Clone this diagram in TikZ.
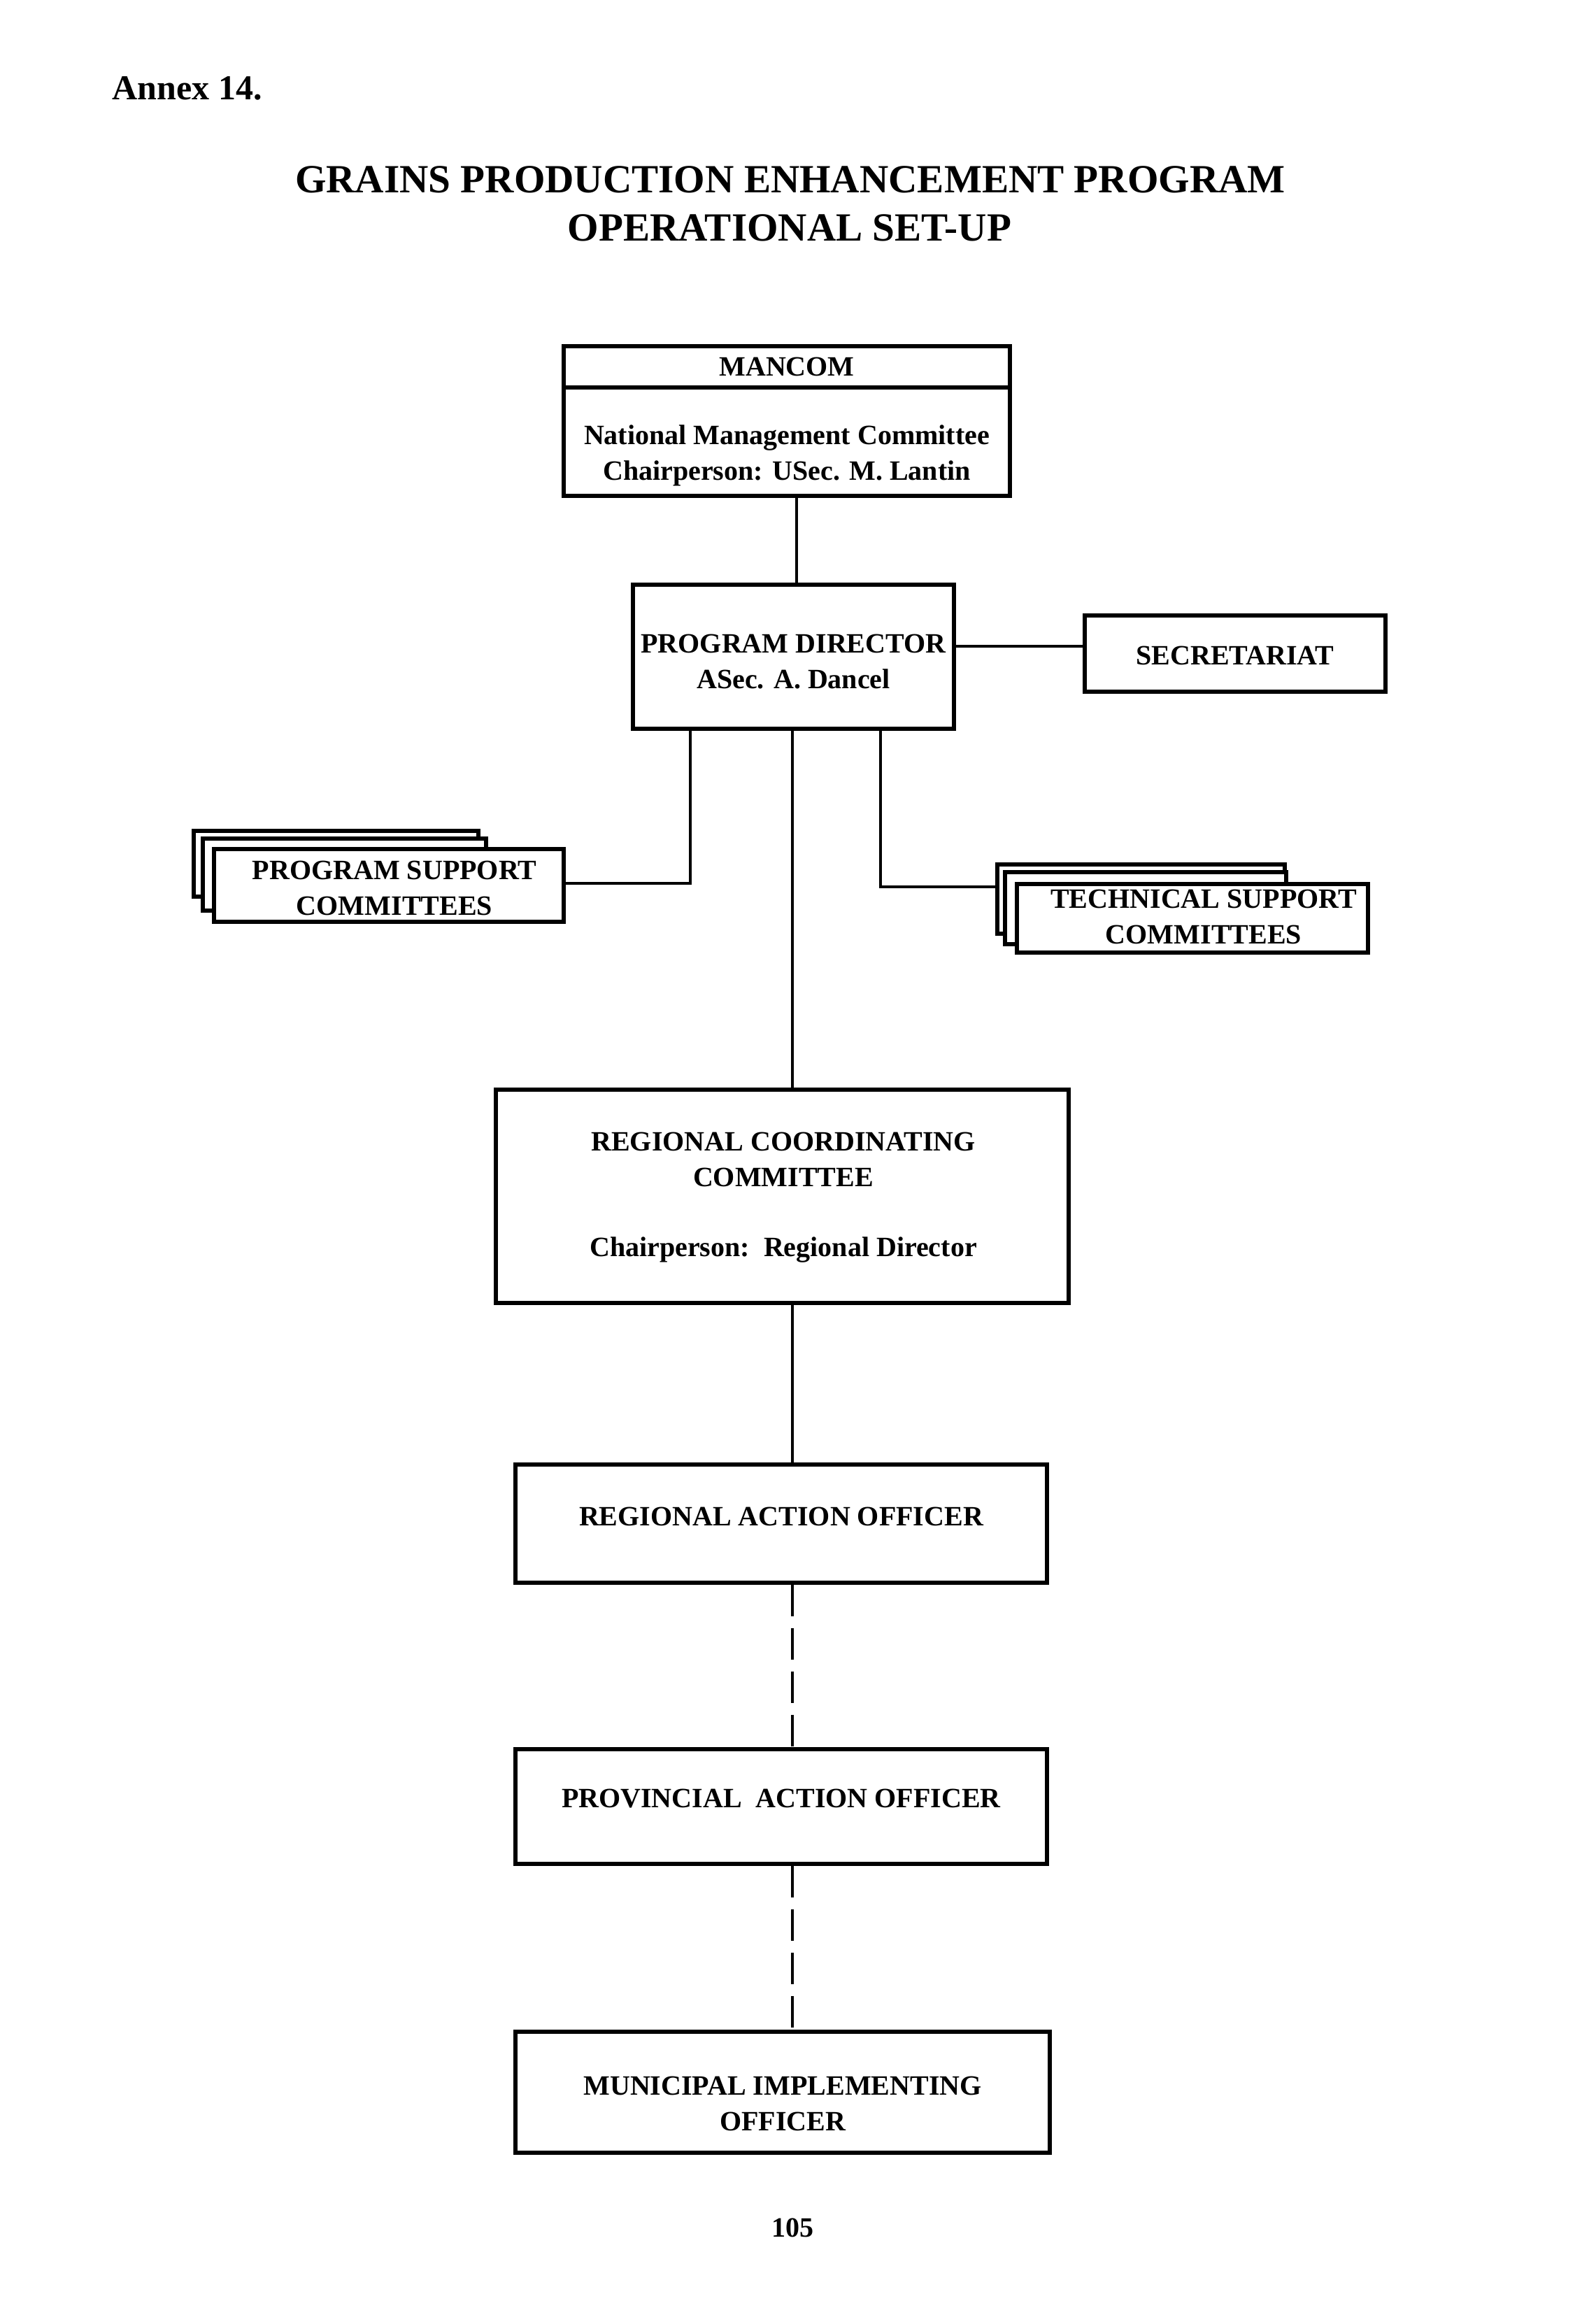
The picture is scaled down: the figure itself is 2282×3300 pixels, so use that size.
\documentclass[tikz,border=0pt]{standalone}
\usepackage{fontspec}
\setmainfont{Liberation Serif}
\begin{document}
\begin{tikzpicture}[x=0.25pt,y=-0.25pt,
  boxs/.style={draw, line width=1.4pt, fill=white, inner sep=0pt},
  lbl/.style={inner sep=0pt, align=center, font=\bfseries\fontsize{10}{12.75}\selectfont},
  conn/.style={line width=1.2pt},
  dashconn/.style={line width=1.2pt, dash pattern=on 11.25pt off 4.25pt}]
\useasboundingbox (0,0) rectangle (2282,3300);
\fill[white] (0,0) rectangle (2282,3300);

% headings
\node[anchor=west, inner sep=0pt, font=\bfseries\fontsize{12.5}{15}\selectfont] (annex) at (160,126) {Annex 14.};
\node[inner sep=0pt, font=\bfseries\fontsize{14.3}{17}\selectfont] (title1) at (1130,257) {GRAINS PRODUCTION ENHANCEMENT PROGRAM};
\node[inner sep=0pt, font=\bfseries\fontsize{14.3}{17}\selectfont] (title2) at (1129,326) {OPERATIONAL SET-UP};

% MANCOM
\node[boxs, minimum width=159.5pt, minimum height=53.5pt] (mancom) at (1125,602) {};
\coordinate (divy) at (0,554);
\draw[line width=1.4pt] (mancom.west |- divy) -- (mancom.east |- divy);
\node[lbl] (mancomT) at (1125,524) {MANCOM};
\node[lbl] (nmc) at (1125,651) {National Management Committee\\Chairperson: USec. M. Lantin};

% Program director and secretariat
\node[boxs, minimum width=114.75pt, minimum height=51.5pt] (pd) at (1134.5,939) {};
\node[lbl] (pdT) at (1134.5,946) {PROGRAM DIRECTOR\\ASec. A. Dancel};
\node[boxs, minimum width=107.5pt, minimum height=27.25pt] (sec) at (1766,934.5) {};
\node[lbl] (secT) at (1766,937) {SECRETARIAT};

% Program support committees (stack)
\node[boxs, minimum width=101.75pt, minimum height=23.5pt] (psc3) at (480.5,1235) {};
\node[boxs, minimum width=101.25pt, minimum height=25.75pt] (psc2) at (492.5,1250.5) {};
\node[boxs, minimum width=125pt, minimum height=26pt] (psc) at (556,1266) {};
\node[lbl] (pscT) at (564,1270) {PROGRAM SUPPORT\\COMMITTEES};

% Technical support committees (stack)
\node[boxs, minimum width=102.75pt, minimum height=24.75pt] (tsc3) at (1631.5,1285.5) {};
\node[boxs, minimum width=100.5pt, minimum height=25.75pt] (tsc2) at (1638,1298.5) {};
\node[boxs, minimum width=125.5pt, minimum height=24.5pt] (tsc) at (1705,1313) {};
\node[lbl] (tscT) at (1721,1311) {TECHNICAL SUPPORT\\COMMITTEES};

% Regional coordinating committee
\node[boxs, minimum width=204.75pt, minimum height=76.25pt] (rcc) at (1118.5,1710.5) {};
\node[lbl] (rccT) at (1120,1658) {REGIONAL COORDINATING\\COMMITTEE};
\node[lbl] (rccC) at (1120,1787) {Chairperson:\ \ Regional Director};

% action officers
\node[boxs, minimum width=190pt, minimum height=42.25pt] (rao) at (1117,2178.5) {};
\node[lbl] (raoT) at (1117,2168) {REGIONAL ACTION OFFICER};
\node[boxs, minimum width=190pt, minimum height=41pt] (pao) at (1117,2583) {};
\node[lbl] (paoT) at (1117,2572) {PROVINCIAL\ \ ACTION OFFICER};
\node[boxs, minimum width=191pt, minimum height=43.25pt] (mio) at (1119,2991.5) {};
\node[lbl] (mioT) at (1119,3008) {MUNICIPAL IMPLEMENTING\\OFFICER};

% page number
\node[lbl] (page) at (1133,3185) {105};

% connectors
\coordinate (mx) at (1139,0);
\coordinate (spine) at (1133,0);
\coordinate (sy) at (0,924);
\coordinate (lx) at (987,0);
\coordinate (rx) at (1259,0);
\coordinate (psy) at (0,1263);
\coordinate (tsy) at (0,1268);

\draw[conn] (mancom.south -| mx) -- (pd.north -| mx);
\draw[conn] (pd.east |- sy) -- (sec.west |- sy);
\draw[conn] (pd.south -| lx) -- (lx |- psy) -- (psc.east |- psy);
\draw[conn] (pd.south -| rx) -- (rx |- tsy) -- (tsc3.west |- tsy);
\draw[conn] (pd.south -| spine) -- (rcc.north -| spine);
\draw[conn] (rcc.south -| spine) -- (rao.north -| spine);
\draw[dashconn] (rao.south -| spine) -- (pao.north -| spine);
\draw[dashconn] (pao.south -| spine) -- (mio.north -| spine);
\end{tikzpicture}
\end{document}
